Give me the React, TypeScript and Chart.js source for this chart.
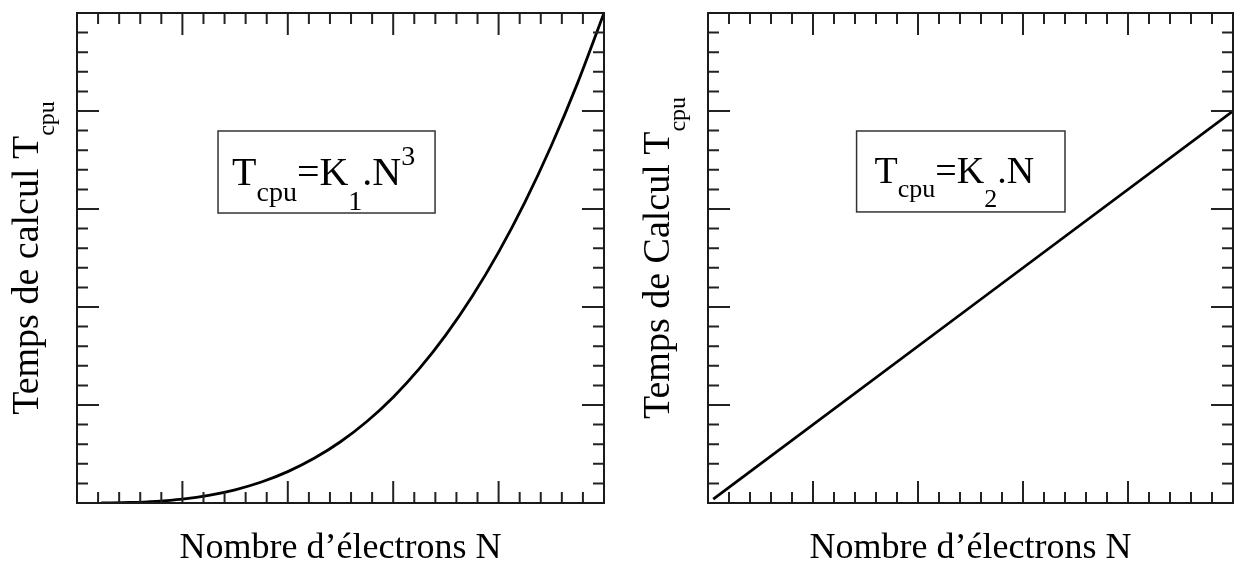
import React, { useEffect, useRef } from "react";
import { Chart, registerables } from "chart.js";

Chart.register(...registerables);

// ---- data ----
const cubicN = [0.23, 0.5, 0.75, 1, 1.25, 1.5, 1.75, 2, 2.25, 2.5, 2.75, 3, 3.25, 3.5, 3.75, 4, 4.25, 4.5, 4.75, 5];
const cubicT = [0.0, 0.005, 0.017, 0.04, 0.078, 0.135, 0.214, 0.32, 0.456, 0.625, 0.832, 1.08, 1.373, 1.715, 2.109, 2.56, 3.07, 3.645, 4.287, 5.0];
const linN = [0.05, 2.5, 5];
const linT = [0.04, 2.0, 4.0];

const majorTicks = [0, 1, 2, 3, 4, 5];
const minorPerMajor = 5;

const leftYTitle = "Temps de calcul T";
const rightYTitle = "Temps de Calcul T";
const ySub = "cpu";
const xTitle = "Nombre d\u2019électrons N";

const SERIF = '"Liberation Serif", "Times New Roman", serif';

type Piece = { t: string; size: number; dy: number };

function richWidth(ctx: CanvasRenderingContext2D, pieces: Piece[]) {
  let w = 0;
  for (const p of pieces) {
    ctx.font = `${p.size}px ${SERIF}`;
    w += ctx.measureText(p.t).width;
  }
  return w;
}

function drawRich(ctx: CanvasRenderingContext2D, pieces: Piece[], x: number, y: number) {
  let cx = x;
  ctx.textBaseline = "alphabetic";
  ctx.textAlign = "left";
  for (const p of pieces) {
    ctx.font = `${p.size}px ${SERIF}`;
    ctx.fillText(p.t, cx, y + p.dy);
    cx += ctx.measureText(p.t).width;
  }
}

const framePlugin = {
  id: "frame",
  afterDatasetsDraw(chart: any, _args: any, opts: any) {
    const ctx: CanvasRenderingContext2D = chart.ctx;
    const { left, right, top, bottom } = chart.chartArea;
    const xs = chart.scales.x;
    const ys = chart.scales.y;
    ctx.save();
    // ticks
    ctx.strokeStyle = "#222";
    ctx.lineWidth = 2;
    ctx.beginPath();
    for (let i = 0; i < majorTicks.length; i++) {
      for (let k = 0; k < minorPerMajor; k++) {
        if (i === majorTicks.length - 1 && k > 0) break;
        const v = majorTicks[i] + k / minorPerMajor;
        const len = k === 0 ? 22 : 11;
        const px = xs.getPixelForValue(v);
        const py = ys.getPixelForValue(v);
        ctx.moveTo(px, bottom);
        ctx.lineTo(px, bottom - len);
        ctx.moveTo(px, top);
        ctx.lineTo(px, top + len);
        ctx.moveTo(left, py);
        ctx.lineTo(left + len, py);
        ctx.moveTo(right, py);
        ctx.lineTo(right - len, py);
      }
    }
    ctx.stroke();
    // frame
    ctx.strokeStyle = "#1a1a1a";
    ctx.lineWidth = 2;
    ctx.strokeRect(left, top, right - left, bottom - top);

    // annotation box
    const b = opts.box;
    const bx1 = xs.getPixelForValue(b.x1);
    const bx2 = xs.getPixelForValue(b.x2);
    const by1 = ys.getPixelForValue(b.y1);
    const by2 = ys.getPixelForValue(b.y2);
    ctx.strokeStyle = "#333";
    ctx.lineWidth = 1.5;
    ctx.strokeRect(bx1, by1, bx2 - bx1, by2 - by1);
    ctx.fillStyle = "#000";
    drawRich(ctx, opts.boxText, bx1 + opts.textDx, by1 + opts.textDy);

    // y title
    const yPieces: Piece[] = [
      { t: opts.yTitle, size: 38, dy: 0 },
      { t: ySub, size: 24, dy: 16 },
    ];
    const yw = richWidth(ctx, yPieces);
    ctx.save();
    ctx.translate(left - 39, (top + bottom) / 2);
    ctx.rotate(-Math.PI / 2);
    drawRich(ctx, yPieces, -yw / 2, 0);
    ctx.restore();

    // x title
    ctx.font = `36px ${SERIF}`;
    ctx.textAlign = "center";
    ctx.textBaseline = "alphabetic";
    ctx.fillText(xTitle, (left + right) / 2, 558);
    ctx.restore();
  },
};

function makeConfig(xsArr: number[], ysArr: number[], padding: any, frameOpts: any, tension: boolean) {
  return {
    type: "scatter" as const,
    data: {
      datasets: [
        {
          data: xsArr.map((x, i) => ({ x, y: ysArr[i] })),
          showLine: true,
          borderColor: "#000",
          borderWidth: 2.8,
          pointRadius: 0,
          fill: false,
          cubicInterpolationMode: tension ? ("monotone" as const) : ("default" as const),
        },
      ],
    },
    options: {
      animation: false as const,
      responsive: false,
      devicePixelRatio: 1,
      layout: { padding },
      plugins: {
        legend: { display: false },
        tooltip: { enabled: false },
        frame: frameOpts,
      },
      scales: {
        x: { type: "linear" as const, min: 0, max: 5, display: false },
        y: { type: "linear" as const, min: 0, max: 5, display: false },
      },
    },
    plugins: [framePlugin],
  };
}

export default function App() {
  const leftRef = useRef<HTMLCanvasElement>(null);
  const rightRef = useRef<HTMLCanvasElement>(null);

  useEffect(() => {
    const leftChart = new Chart(
      leftRef.current!,
      makeConfig(
        cubicN,
        cubicT,
        { left: 77, top: 13, right: 13, bottom: 60 },
        {
          yTitle: leftYTitle,
          box: { x1: 1.338, x2: 3.397, y1: 3.796, y2: 2.959 },
          textDx: 14,
          textDy: 54,
          boxText: [
            { t: "T", size: 40, dy: 0 },
            { t: "cpu", size: 28, dy: 16 },
            { t: "=K", size: 40, dy: 0 },
            { t: "1", size: 28, dy: 25 },
            { t: ".N", size: 40, dy: 0 },
            { t: "3", size: 28, dy: -20 },
          ],
        },
        true
      ) as any
    );
    const rightChart = new Chart(
      rightRef.current!,
      makeConfig(
        linN,
        linT,
        { left: 91, top: 13, right: 2, bottom: 60 },
        {
          yTitle: rightYTitle,
          box: { x1: 1.415, x2: 3.4, y1: 3.796, y2: 2.97 },
          textDx: 18,
          textDy: 52,
          boxText: [
            { t: "T", size: 38, dy: 0 },
            { t: "cpu", size: 26, dy: 14 },
            { t: "=K", size: 38, dy: 0 },
            { t: "2", size: 26, dy: 24 },
            { t: ".N", size: 38, dy: 0 },
          ],
        },
        false
      ) as any
    );
    return () => {
      leftChart.destroy();
      rightChart.destroy();
    };
  }, []);

  return (
    <div style={{ position: "absolute", left: 0, top: 0, width: 1235, height: 563, background: "#fff", overflow: "hidden" }}>
      <canvas ref={leftRef} width={617} height={563} style={{ position: "absolute", left: 0, top: 0, display: "block" }} />
      <canvas ref={rightRef} width={618} height={563} style={{ position: "absolute", left: 617, top: 0, display: "block" }} />
    </div>
  );
}
